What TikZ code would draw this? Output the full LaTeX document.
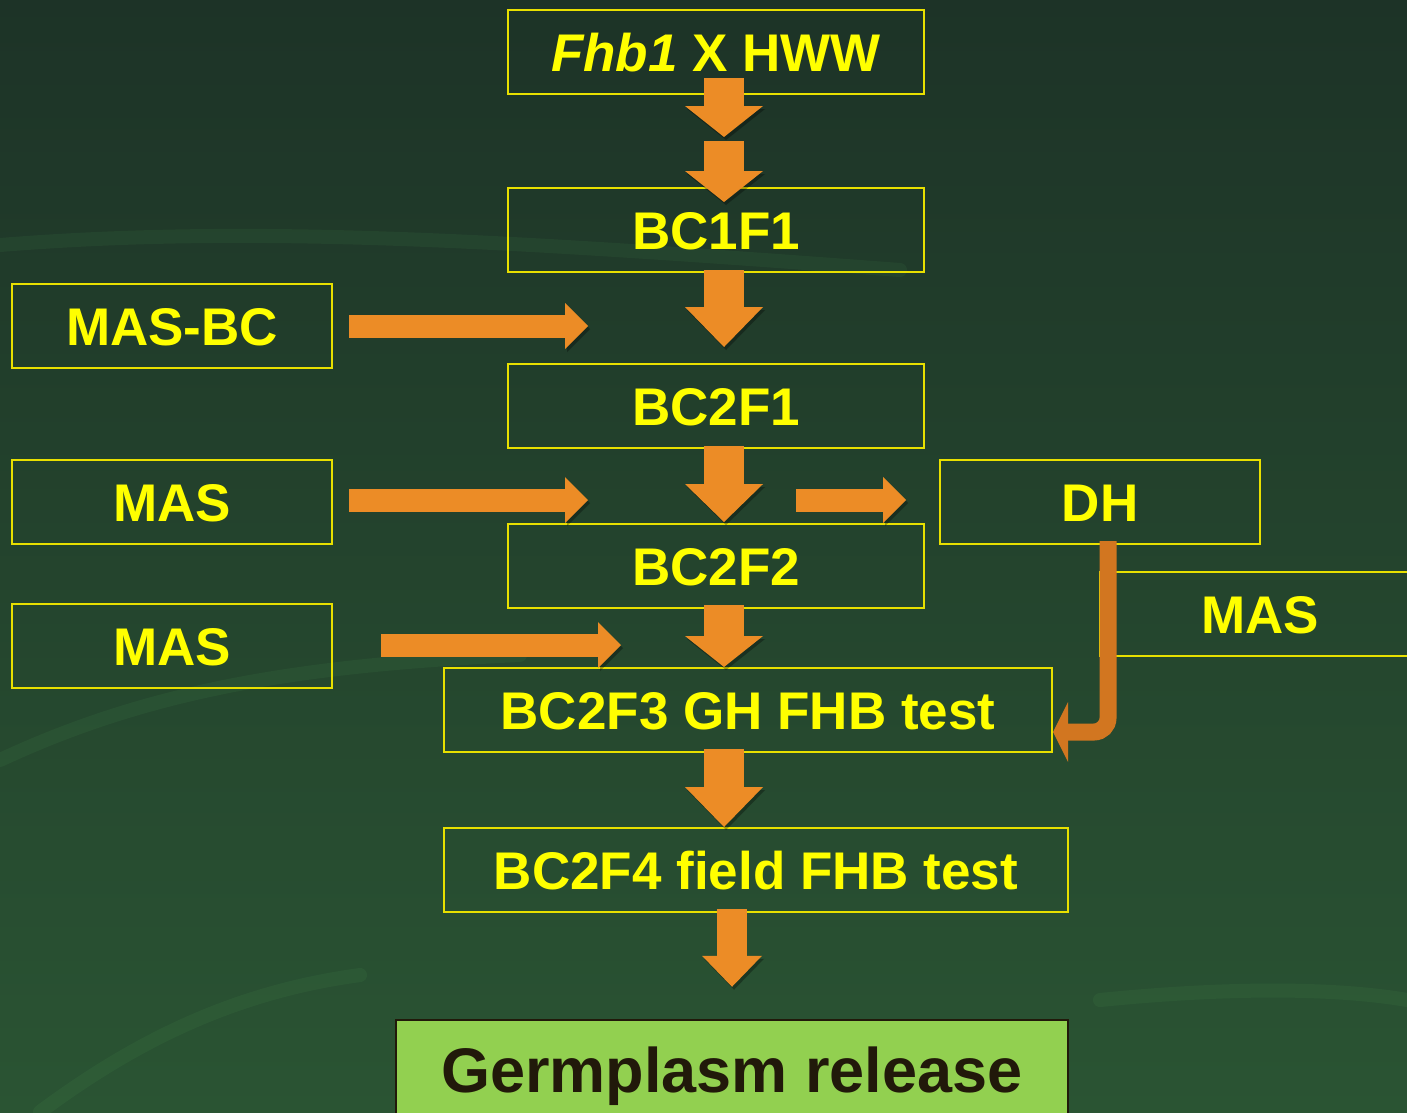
\documentclass[tikz,border=0pt]{standalone}
\usepackage{fontspec}
\setmainfont{Liberation Sans}
\usetikzlibrary{arrows.meta}
\definecolor{bgtop}{HTML}{1D3327}
\definecolor{bgmid}{HTML}{28523A}
\definecolor{bgbot}{HTML}{2A5433}
\definecolor{boxline}{HTML}{E8E000}
\definecolor{boxtext}{HTML}{FFFF00}
\definecolor{arrowor}{HTML}{EC8C26}
\definecolor{bentor}{HTML}{D27620}
\definecolor{releasegreen}{HTML}{92D050}
\definecolor{releaseline}{HTML}{21190A}
\begin{document}
\begin{tikzpicture}[x=1pt,y=-1pt,
  stage/.style={draw=boxline, line width=2pt, text=boxtext, minimum width=416pt, minimum height=84pt,
    inner sep=0pt, font=\fontsize{53}{60}\selectfont\bfseries, text height=38pt, text depth=0pt},
  side/.style={stage, minimum width=320pt},
  shadowed/.style={preaction={draw=black, opacity=0.3, transform canvas={xshift=2pt,yshift=-3pt}}},
  downflow/.style={shadowed, draw=arrowor, line width=40pt, -{Triangle[width=78pt,length=#1,line width=0pt]}},
  downflow/.default=31pt,
  sideflow/.style={shadowed, draw=arrowor, line width=23pt, -{Triangle[width=46pt,length=23pt,line width=0pt]}},
  bentflow/.style={draw=bentor, line width=17pt, rounded corners=14pt, -{Triangle[width=60pt,length=15pt,line width=0pt]}},
  streak/.style={draw=green!50!white, opacity=0.05, line width=14pt, line cap=round}]
% background
\shade[top color=bgtop, middle color=bgmid, bottom color=bgbot] (0,0) rectangle (1407,1112);
\useasboundingbox (0,0) rectangle (1407,1112);
\draw[streak] (0,245) .. controls (250,225) and (500,240) .. (900,270);
\draw[streak] (0,760) .. controls (150,690) and (300,665) .. (520,655);
\draw[streak] (40,1112) .. controls (150,1030) and (250,990) .. (360,975);
\draw[streak] (1100,1000) .. controls (1250,985) and (1350,990) .. (1407,1000);

% stages
\node[stage] (top) at (716,52) {\textit{Fhb1} X HWW};
\node[stage] (bc1) at (716,230) {BC1F1};
\node[stage] (bc2f1) at (716,406) {BC2F1};
\node[stage] (bc2f2) at (716,566) {BC2F2};
\node[stage, minimum width=608pt] (bc3) at (748,710) {BC2F3 GH FHB test};
\node[stage, minimum width=624pt] (bc4) at (756,870) {BC2F4 field FHB test};
\node[draw=releaseline, line width=2.5pt, fill=releasegreen, text=releaseline, minimum width=672pt, minimum height=100pt,
  font=\fontsize{63}{70}\selectfont\bfseries, text height=45pt, text depth=0pt] (release) at (732,1070) {Germplasm release};

% selection steps
\node[side] (masbc) at (172,326) {MAS-BC};
\node[side] (mas1) at (172,502) {MAS};
\node[side] (mas2) at (172,646) {MAS};
\node[side] (dh) at (1100,502) {DH};
\node[side] (masdh) at (1260,614) {MAS};

\coordinate (tipbc) at (588,326);
\coordinate (tipmas1) at (588,500);
\coordinate (tipmas2) at (621,645);
\coordinate (todh) at (796,500);

% flow
\draw[downflow] ([xshift=8pt,yshift=17pt]top.south) -- ([xshift=8pt,yshift=50pt]bc1.north);
\draw[downflow] ([xshift=8pt,yshift=-46pt]top.south) -- ([xshift=8pt,yshift=-15pt]bc1.north);
\draw[downflow=40pt] ([xshift=8pt,yshift=3pt]bc1.south) -- ([xshift=8pt,yshift=16pt]bc2f1.north);
\draw[downflow=38pt] ([xshift=8pt,yshift=3pt]bc2f1.south) -- ([xshift=8pt,yshift=1pt]bc2f2.north);
\draw[downflow] ([xshift=8pt,yshift=4pt]bc2f2.south) -- ([xshift=-24pt]bc3.north);
\draw[downflow=40pt] ([xshift=-24pt,yshift=4pt]bc3.south) -- ([xshift=-32pt]bc4.north);
\draw[downflow, line width=30pt, -{Triangle[width=60pt,length=31pt,line width=0pt]}]
  ([xshift=-24pt,yshift=4pt]bc4.south) -- ([yshift=32pt]release.north);

\draw[sideflow] ([xshift=16pt]masbc.east) -- (tipbc);
\draw[sideflow] ([xshift=16pt,yshift=2pt]mas1.east) -- (tipmas1);
\draw[sideflow] ([xshift=48pt,yshift=1pt]mas2.east) -- (tipmas2);
\draw[sideflow] (todh) -- ([xshift=-33pt,yshift=2pt]dh.west);
\draw[bentflow] ([xshift=8pt,yshift=4pt]dh.south) |- ([yshift=-22pt]bc3.east);
\end{tikzpicture}
\end{document}
